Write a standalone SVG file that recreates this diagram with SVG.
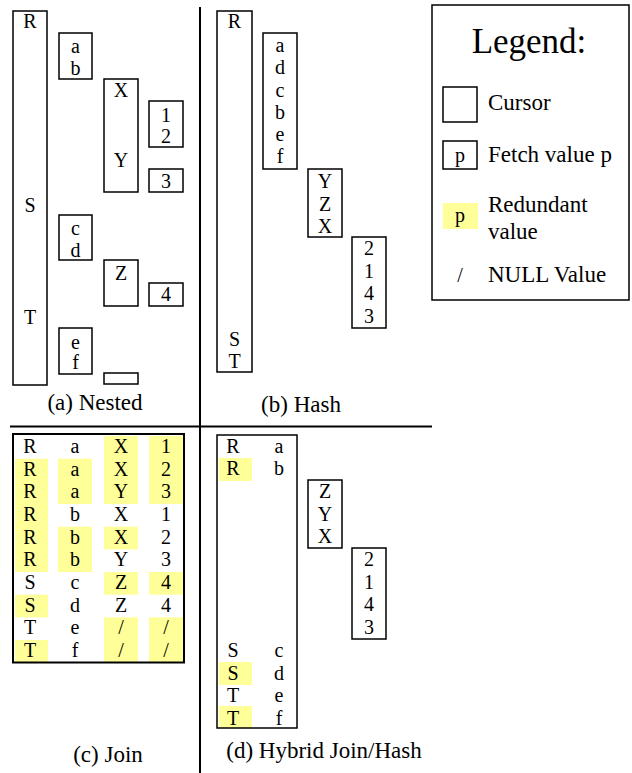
<svg xmlns="http://www.w3.org/2000/svg" width="632" height="773" viewBox="0 0 632 773">
<rect width="632" height="773" fill="#fff"/>
<g id="dividers" stroke="#000" stroke-width="2">
<line x1="200" y1="7" x2="200" y2="773"/>
<line x1="10" y1="426.5" x2="432" y2="426.5"/>
</g>
<g id="panel-a">
<rect x="13" y="11" width="34" height="374" fill="none" stroke="#000" stroke-width="1.5"/>
<text font-family="Liberation Serif" font-size="20" text-anchor="middle" x="30" y="28">R</text>
<text font-family="Liberation Serif" font-size="20" text-anchor="middle" x="30" y="212">S</text>
<text font-family="Liberation Serif" font-size="20" text-anchor="middle" x="30" y="324">T</text>
<rect x="59" y="33" width="33" height="46" fill="none" stroke="#000" stroke-width="1.5"/>
<text font-family="Liberation Serif" font-size="20" text-anchor="middle" x="75.5" y="53">a</text>
<text font-family="Liberation Serif" font-size="20" text-anchor="middle" x="75.5" y="75">b</text>
<rect x="104" y="79" width="34" height="113" fill="none" stroke="#000" stroke-width="1.5"/>
<text font-family="Liberation Serif" font-size="20" text-anchor="middle" x="121" y="97">X</text>
<text font-family="Liberation Serif" font-size="20" text-anchor="middle" x="121" y="167">Y</text>
<rect x="149" y="101" width="34" height="46" fill="none" stroke="#000" stroke-width="1.5"/>
<text font-family="Liberation Serif" font-size="20" text-anchor="middle" x="166" y="122">1</text>
<text font-family="Liberation Serif" font-size="20" text-anchor="middle" x="166" y="143">2</text>
<rect x="149" y="169" width="34" height="23" fill="none" stroke="#000" stroke-width="1.5"/>
<text font-family="Liberation Serif" font-size="20" text-anchor="middle" x="166" y="188">3</text>
<rect x="59" y="215" width="33" height="45" fill="none" stroke="#000" stroke-width="1.5"/>
<text font-family="Liberation Serif" font-size="20" text-anchor="middle" x="75.5" y="235">c</text>
<text font-family="Liberation Serif" font-size="20" text-anchor="middle" x="75.5" y="257">d</text>
<rect x="104" y="260" width="34" height="46" fill="none" stroke="#000" stroke-width="1.5"/>
<text font-family="Liberation Serif" font-size="20" text-anchor="middle" x="121" y="280">Z</text>
<rect x="149" y="283" width="34" height="23" fill="none" stroke="#000" stroke-width="1.5"/>
<text font-family="Liberation Serif" font-size="20" text-anchor="middle" x="166" y="301">4</text>
<rect x="59" y="328" width="33" height="46" fill="none" stroke="#000" stroke-width="1.5"/>
<text font-family="Liberation Serif" font-size="20" text-anchor="middle" x="75.5" y="349">e</text>
<text font-family="Liberation Serif" font-size="20" text-anchor="middle" x="75.5" y="369">f</text>
<rect x="104" y="373" width="34" height="11" fill="none" stroke="#000" stroke-width="1.5"/>
<text font-family="Liberation Serif" font-size="23" text-anchor="middle" x="95" y="410">(a) Nested</text>
</g>
<g id="panel-b">
<rect x="217" y="11" width="35" height="361" fill="none" stroke="#000" stroke-width="1.5"/>
<text font-family="Liberation Serif" font-size="20" text-anchor="middle" x="234.5" y="28">R</text>
<text font-family="Liberation Serif" font-size="20" text-anchor="middle" x="234.5" y="346">S</text>
<text font-family="Liberation Serif" font-size="20" text-anchor="middle" x="234.5" y="368">T</text>
<rect x="263" y="33" width="34" height="136" fill="none" stroke="#000" stroke-width="1.5"/>
<text font-family="Liberation Serif" font-size="20" text-anchor="middle" x="280" y="52">a</text>
<text font-family="Liberation Serif" font-size="20" text-anchor="middle" x="280" y="74">d</text>
<text font-family="Liberation Serif" font-size="20" text-anchor="middle" x="280" y="96.5">c</text>
<text font-family="Liberation Serif" font-size="20" text-anchor="middle" x="280" y="119">b</text>
<text font-family="Liberation Serif" font-size="20" text-anchor="middle" x="280" y="141">e</text>
<text font-family="Liberation Serif" font-size="20" text-anchor="middle" x="280" y="163">f</text>
<rect x="308" y="169" width="34" height="68" fill="none" stroke="#000" stroke-width="1.5"/>
<text font-family="Liberation Serif" font-size="20" text-anchor="middle" x="325" y="188">Y</text>
<text font-family="Liberation Serif" font-size="20" text-anchor="middle" x="325" y="210.5">Z</text>
<text font-family="Liberation Serif" font-size="20" text-anchor="middle" x="325" y="233">X</text>
<rect x="352" y="237" width="34" height="91" fill="none" stroke="#000" stroke-width="1.5"/>
<text font-family="Liberation Serif" font-size="20" text-anchor="middle" x="369" y="255">2</text>
<text font-family="Liberation Serif" font-size="20" text-anchor="middle" x="369" y="277.5">1</text>
<text font-family="Liberation Serif" font-size="20" text-anchor="middle" x="369" y="300">4</text>
<text font-family="Liberation Serif" font-size="20" text-anchor="middle" x="369" y="323">3</text>
<text font-family="Liberation Serif" font-size="23" text-anchor="middle" x="301" y="412">(b) Hash</text>
</g>
<g id="legend">
<rect x="432" y="5" width="197" height="295" fill="none" stroke="#000" stroke-width="1.5"/>
<text font-family="Liberation Serif" font-size="35" text-anchor="middle" x="529" y="53">Legend:</text>
<rect x="443" y="87" width="34" height="35" fill="none" stroke="#000" stroke-width="1.5"/>
<text font-family="Liberation Serif" font-size="23" x="488" y="110">Cursor</text>
<rect x="443" y="141" width="34" height="28" fill="none" stroke="#000" stroke-width="1.5"/>
<text font-family="Liberation Serif" font-size="20" text-anchor="middle" x="460" y="162">p</text>
<text font-family="Liberation Serif" font-size="23" x="488" y="162">Fetch value p</text>
<rect x="443" y="203" width="35" height="26" fill="#FFFF99"/>
<text font-family="Liberation Serif" font-size="20" text-anchor="middle" x="460" y="222">p</text>
<text font-family="Liberation Serif" font-size="23" x="488" y="212">Redundant</text>
<text font-family="Liberation Serif" font-size="23" x="488" y="239">value</text>
<text font-family="Liberation Serif" font-size="20" text-anchor="middle" x="460" y="282">/</text>
<text font-family="Liberation Serif" font-size="23" x="488" y="282">NULL Value</text>
</g>
<g id="panel-c">
<g id="highlights-c" fill="#FFFF99">
<rect x="104" y="436" width="34" height="68"/>
<rect x="149" y="436" width="34" height="68"/>
<rect x="15" y="458.7" width="33" height="113.3"/>
<rect x="58" y="458.7" width="34" height="45.3"/>
<rect x="58" y="526.7" width="34" height="45.3"/>
<rect x="104" y="526.7" width="34" height="22.7"/>
<rect x="104" y="572" width="34" height="22.7"/>
<rect x="149" y="572" width="34" height="22.7"/>
<rect x="15" y="594.7" width="33" height="22.7"/>
<rect x="104" y="617.3" width="34" height="45.3"/>
<rect x="149" y="617.3" width="34" height="45.3"/>
<rect x="15" y="640" width="33" height="22.7"/>
</g>
<rect x="13" y="434" width="171" height="228.5" fill="none" stroke="#000" stroke-width="2"/>
<g id="rows-c">
<text font-family="Liberation Serif" font-size="20" text-anchor="middle" x="30" y="453">R</text><text font-family="Liberation Serif" font-size="20" text-anchor="middle" x="75" y="453">a</text><text font-family="Liberation Serif" font-size="20" text-anchor="middle" x="121" y="453">X</text><text font-family="Liberation Serif" font-size="20" text-anchor="middle" x="166" y="453">1</text>
<text font-family="Liberation Serif" font-size="20" text-anchor="middle" x="30" y="475.7">R</text><text font-family="Liberation Serif" font-size="20" text-anchor="middle" x="75" y="475.7">a</text><text font-family="Liberation Serif" font-size="20" text-anchor="middle" x="121" y="475.7">X</text><text font-family="Liberation Serif" font-size="20" text-anchor="middle" x="166" y="475.7">2</text>
<text font-family="Liberation Serif" font-size="20" text-anchor="middle" x="30" y="498.3">R</text><text font-family="Liberation Serif" font-size="20" text-anchor="middle" x="75" y="498.3">a</text><text font-family="Liberation Serif" font-size="20" text-anchor="middle" x="121" y="498.3">Y</text><text font-family="Liberation Serif" font-size="20" text-anchor="middle" x="166" y="498.3">3</text>
<text font-family="Liberation Serif" font-size="20" text-anchor="middle" x="30" y="521">R</text><text font-family="Liberation Serif" font-size="20" text-anchor="middle" x="75" y="521">b</text><text font-family="Liberation Serif" font-size="20" text-anchor="middle" x="121" y="521">X</text><text font-family="Liberation Serif" font-size="20" text-anchor="middle" x="166" y="521">1</text>
<text font-family="Liberation Serif" font-size="20" text-anchor="middle" x="30" y="543.7">R</text><text font-family="Liberation Serif" font-size="20" text-anchor="middle" x="75" y="543.7">b</text><text font-family="Liberation Serif" font-size="20" text-anchor="middle" x="121" y="543.7">X</text><text font-family="Liberation Serif" font-size="20" text-anchor="middle" x="166" y="543.7">2</text>
<text font-family="Liberation Serif" font-size="20" text-anchor="middle" x="30" y="566.3">R</text><text font-family="Liberation Serif" font-size="20" text-anchor="middle" x="75" y="566.3">b</text><text font-family="Liberation Serif" font-size="20" text-anchor="middle" x="121" y="566.3">Y</text><text font-family="Liberation Serif" font-size="20" text-anchor="middle" x="166" y="566.3">3</text>
<text font-family="Liberation Serif" font-size="20" text-anchor="middle" x="30" y="589">S</text><text font-family="Liberation Serif" font-size="20" text-anchor="middle" x="75" y="589">c</text><text font-family="Liberation Serif" font-size="20" text-anchor="middle" x="121" y="589">Z</text><text font-family="Liberation Serif" font-size="20" text-anchor="middle" x="166" y="589">4</text>
<text font-family="Liberation Serif" font-size="20" text-anchor="middle" x="30" y="611.7">S</text><text font-family="Liberation Serif" font-size="20" text-anchor="middle" x="75" y="611.7">d</text><text font-family="Liberation Serif" font-size="20" text-anchor="middle" x="121" y="611.7">Z</text><text font-family="Liberation Serif" font-size="20" text-anchor="middle" x="166" y="611.7">4</text>
<text font-family="Liberation Serif" font-size="20" text-anchor="middle" x="30" y="634.3">T</text><text font-family="Liberation Serif" font-size="20" text-anchor="middle" x="75" y="634.3">e</text><text font-family="Liberation Serif" font-size="20" text-anchor="middle" x="121" y="634.3">/</text><text font-family="Liberation Serif" font-size="20" text-anchor="middle" x="166" y="634.3">/</text>
<text font-family="Liberation Serif" font-size="20" text-anchor="middle" x="30" y="657">T</text><text font-family="Liberation Serif" font-size="20" text-anchor="middle" x="75" y="657">f</text><text font-family="Liberation Serif" font-size="20" text-anchor="middle" x="121" y="657">/</text><text font-family="Liberation Serif" font-size="20" text-anchor="middle" x="166" y="657">/</text>
</g>
<text font-family="Liberation Serif" font-size="23" text-anchor="middle" x="108" y="762">(c) Join</text>
</g>
<g id="panel-d">
<rect x="219" y="458" width="33" height="23" fill="#FFFF99"/>
<rect x="219" y="662" width="33" height="23" fill="#FFFF99"/>
<rect x="219" y="706" width="33" height="22" fill="#FFFF99"/>
<rect x="217" y="435" width="80" height="293" fill="none" stroke="#000" stroke-width="1.5"/>
<text font-family="Liberation Serif" font-size="20" text-anchor="middle" x="233" y="453">R</text><text font-family="Liberation Serif" font-size="20" text-anchor="middle" x="279" y="453">a</text>
<text font-family="Liberation Serif" font-size="20" text-anchor="middle" x="233" y="475">R</text><text font-family="Liberation Serif" font-size="20" text-anchor="middle" x="279" y="475">b</text>
<text font-family="Liberation Serif" font-size="20" text-anchor="middle" x="233" y="657">S</text><text font-family="Liberation Serif" font-size="20" text-anchor="middle" x="279" y="657">c</text>
<text font-family="Liberation Serif" font-size="20" text-anchor="middle" x="233" y="680">S</text><text font-family="Liberation Serif" font-size="20" text-anchor="middle" x="279" y="680">d</text>
<text font-family="Liberation Serif" font-size="20" text-anchor="middle" x="233" y="702">T</text><text font-family="Liberation Serif" font-size="20" text-anchor="middle" x="279" y="702">e</text>
<text font-family="Liberation Serif" font-size="20" text-anchor="middle" x="233" y="725">T</text><text font-family="Liberation Serif" font-size="20" text-anchor="middle" x="279" y="725">f</text>
<rect x="308" y="480" width="34" height="68" fill="none" stroke="#000" stroke-width="1.5"/>
<text font-family="Liberation Serif" font-size="20" text-anchor="middle" x="325" y="498">Z</text>
<text font-family="Liberation Serif" font-size="20" text-anchor="middle" x="325" y="520.5">Y</text>
<text font-family="Liberation Serif" font-size="20" text-anchor="middle" x="325" y="543">X</text>
<rect x="352" y="548" width="34" height="91" fill="none" stroke="#000" stroke-width="1.5"/>
<text font-family="Liberation Serif" font-size="20" text-anchor="middle" x="369" y="566">2</text>
<text font-family="Liberation Serif" font-size="20" text-anchor="middle" x="369" y="588.5">1</text>
<text font-family="Liberation Serif" font-size="20" text-anchor="middle" x="369" y="611">4</text>
<text font-family="Liberation Serif" font-size="20" text-anchor="middle" x="369" y="634">3</text>
<text font-family="Liberation Serif" font-size="23" text-anchor="middle" x="324" y="758">(d) Hybrid Join/Hash</text>
</g>
</svg>
